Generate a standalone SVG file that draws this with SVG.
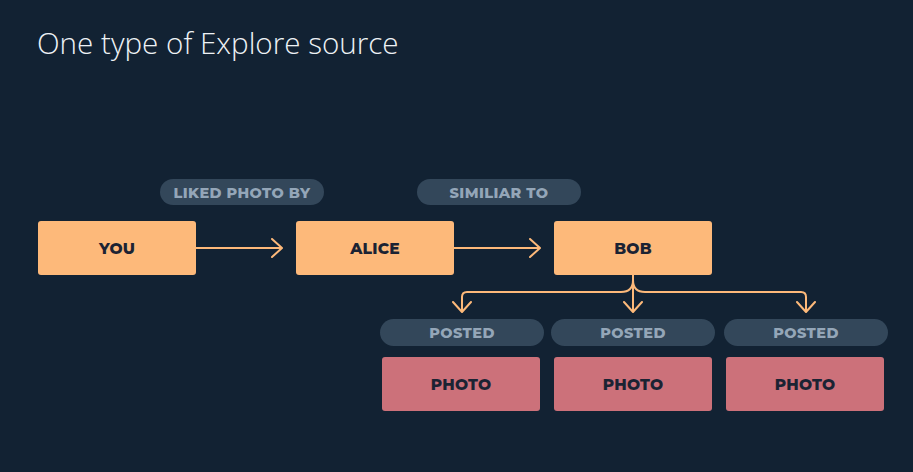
<svg xmlns="http://www.w3.org/2000/svg" width="913" height="472" viewBox="0 0 913 472">
<defs>
<marker id="arr" viewBox="0 0 12 20" refX="11" refY="10" markerWidth="12" markerHeight="20" markerUnits="userSpaceOnUse" orient="auto">
<path d="M1 1 L11 10 L1 19" fill="none" stroke="#fdb97a" stroke-width="2" stroke-linecap="round" stroke-linejoin="round"/>
</marker>
<style>
.title{font-family:"Open Sans","Noto Sans",sans-serif;font-weight:300;font-size:29.6px;fill:#eef2f6}
.node{fill:#fdb97a}
.photo{fill:#cc717a}
.pill{fill:#33475a}
.lbl{font-family:"Montserrat","Lato","Open Sans",sans-serif;font-weight:800;font-size:15.5px;fill:#1b2333;text-anchor:middle;letter-spacing:0.2px}
.plbl{font-family:"Montserrat","Lato","Open Sans",sans-serif;font-weight:800;font-size:14.5px;fill:#94a6b8;text-anchor:middle;letter-spacing:0.4px}
.conn{fill:none;stroke:#fdb97a;stroke-width:2}
</style>
</defs>
<rect width="913" height="472" fill="#122233"/>
<text class="title" x="37" y="54">One type of Explore source</text>

<g id="connectors">
<line class="conn" x1="196" y1="248" x2="282" y2="248" marker-end="url(#arr)"/>
<line class="conn" x1="454" y1="248" x2="540" y2="248" marker-end="url(#arr)"/>
<path class="conn" d="M633 274 V312" marker-end="url(#arr)"/>
<path class="conn" d="M633 280 Q633 292 621 292 H467 Q462 292 462 297 V312" marker-end="url(#arr)"/>
<path class="conn" d="M633 280 Q633 292 645 292 H801 Q806 292 806 297 V312" marker-end="url(#arr)"/>
</g>

<g id="label-liked">
<rect class="pill" x="160" y="179" width="164" height="26" rx="13"/>
<text class="plbl" x="242" y="197.5">LIKED PHOTO BY</text>
</g>
<g id="label-similar">
<rect class="pill" x="417" y="179" width="164" height="26" rx="13"/>
<text class="plbl" x="499" y="197.5">SIMILIAR TO</text>
</g>

<g id="you">
<rect class="node" x="38" y="221" width="158" height="54" rx="3"/>
<text class="lbl" x="117" y="253.5">YOU</text>
</g>
<g id="alice">
<rect class="node" x="296" y="221" width="158" height="54" rx="3"/>
<text class="lbl" x="375" y="253.5">ALICE</text>
</g>
<g id="bob">
<rect class="node" x="554" y="221" width="158" height="54" rx="3"/>
<text class="lbl" x="633" y="253.5">BOB</text>
</g>

<g id="posted1">
<rect class="pill" x="380" y="319" width="164" height="27" rx="13.5"/>
<text class="plbl" x="462" y="338">POSTED</text>
</g>
<g id="posted2">
<rect class="pill" x="551" y="319" width="164" height="27" rx="13.5"/>
<text class="plbl" x="633" y="338">POSTED</text>
</g>
<g id="posted3">
<rect class="pill" x="724" y="319" width="164" height="27" rx="13.5"/>
<text class="plbl" x="806" y="338">POSTED</text>
</g>

<g id="photo1">
<rect class="photo" x="382" y="357" width="158" height="54" rx="3"/>
<text class="lbl" x="461" y="389.5">PHOTO</text>
</g>
<g id="photo2">
<rect class="photo" x="554" y="357" width="158" height="54" rx="3"/>
<text class="lbl" x="633" y="389.5">PHOTO</text>
</g>
<g id="photo3">
<rect class="photo" x="726" y="357" width="158" height="54" rx="3"/>
<text class="lbl" x="805" y="389.5">PHOTO</text>
</g>
</svg>
